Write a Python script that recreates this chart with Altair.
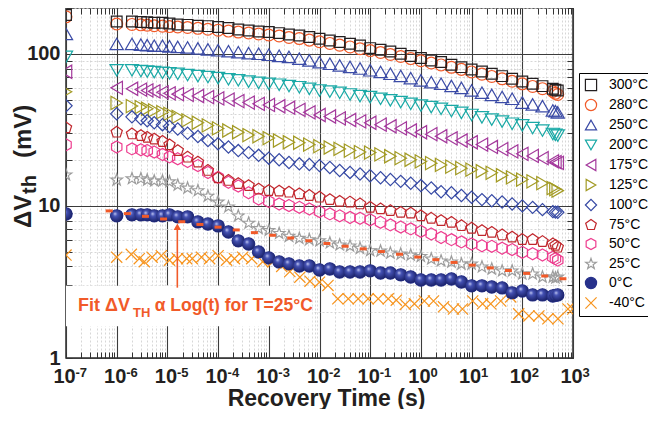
import altair as alt
import pandas as pd

FONT = "Liberation Sans"
INK = "#231f20"
ACCENT = "#f15a29"

# ---------------- data ----------------
SERIES = ["300°C", "280°C", "250°C", "200°C", "175°C", "125°C",
          "100°C", "75°C", "50°C", "25°C", "0°C", "-40°C"]

TIMES = [1e-7, 1e-6, 2e-6, 3e-6, 4e-6, 5.5e-6, 8e-6, 1.1e-5, 1.6e-5, 2.5e-5, 4e-5, 6.3e-5,
         1e-4, 1.6e-4, 2.5e-4, 4e-4, 6.3e-4, 1e-3, 1.6e-3, 2.5e-3, 4e-3, 6.3e-3,
         1e-2, 1.6e-2, 2.5e-2, 4e-2, 6.3e-2, 0.1, 0.16, 0.25, 0.4, 0.63,
         1, 1.6, 2.5, 4, 6.3, 10, 16, 25, 40, 63, 100, 160, 250, 400, 450, 500]

V_300 = [180, 163, 163, 162, 161, 160, 160, 158, 156, 155, 153, 152, 150, 147.6, 144.5, 142.3,
         140.2, 138.9, 136.8, 134, 131.9, 128.8, 125.5, 122.3, 119.4, 116.4, 113.4, 109, 106.2,
         103.5, 100, 96.6, 93.7, 90.3, 88.2, 84.7, 81.7, 78.8, 76.5, 73.9, 71.3, 68.5, 65.7,
         63.5, 61.3, 58.9, 58, 57.4]
V_280 = [175, 157, 156, 155, 154, 153, 152, 151, 150, 149, 147, 145, 143, 141, 139, 137, 135,
         133, 131, 128, 126, 123, 120, 117, 114, 111, 108, 105, 102, 99, 96, 93, 90, 87, 84.5,
         81.5, 79, 76, 73.5, 71, 68.5, 66, 63.5, 61, 59, 56.5, 55, 54]
V_250 = [135, 116, 116, 115, 114, 113, 113, 112, 111, 110, 108.5, 107, 105.5, 104, 102.5, 101,
         100, 98.5, 97, 95.4, 93, 90.5, 88.2, 86, 83.8, 82, 80, 77.9, 76, 73.9, 71.5, 69.2,
         66.9, 65, 63.5, 61.5, 59.7, 57.4, 55.5, 53.7, 52, 50.6, 47.8, 46.5, 45.3, 42.4, 42, 41.2]
V_200 = [95.6, 77.9, 77.9, 77, 76.5, 75.7, 75, 74.5, 73.9, 72.5, 71.3, 70.3, 69.2, 68, 66.9,
         65.6, 64.4, 63.5, 62.6, 61.4, 60.3, 58.8, 57.4, 56.4, 55.4, 54, 52.7, 51.9, 50.6, 49.4,
         48.1, 46.9, 45.7, 44.6, 43.5, 42, 40.9, 39.6, 38.2, 36.9, 35.8, 34.7, 33.8, 32.5, 31.3,
         29.7, 29.3, 29.0]
V_175 = [76.2, 59.7, 58.9, 58.2, 57.4, 56.6, 55.8, 55, 54.3, 53.7, 52.8, 51.9, 50.9, 50.0, 48.9,
         47.8, 46.9, 46.1, 45.2, 44.2, 42.8, 41.2, 39.6, 38.7, 37.6, 36.7, 35.9, 35.2, 34.2, 33.4,
         32.3, 31.3, 30.5, 29.6, 28.7, 27.8, 26.9, 26.2, 25.3, 24.4, 23.6, 22.8, 22.0, 21.3, 20.6,
         19.6, 19.4, 19.2]
V_125 = [56.2, 47.5, 45.3, 44.6, 43.5, 42.4, 41.3, 40.3, 38.5, 36.5, 35.2, 33.8, 32.3, 31.3, 30.5,
         29.2, 28.7, 27.9, 26.9, 26.2, 26.0, 25.3, 24.7, 24.2, 23.7, 23.1, 22.6, 22.4, 21.8, 21.2,
         20.6, 20.1, 19.6, 19.1, 18.6, 18.1, 17.7, 17.3, 16.9, 16.5, 15.9, 15.4, 14.9, 14.5, 14.1,
         13.1, 12.9, 12.6]
V_100 = [45.5, 40.3, 38.5, 37.4, 36.3, 35.2, 34.2, 33.3, 32.0, 30.0, 28.6, 26.9, 25.6, 24.4, 23.1,
         22.4, 21.5, 20.6, 20.1, 19.3, 18.9, 18.7, 18.4, 17.9, 17.1, 16.6, 16.2, 15.8, 15.3, 14.9,
         14.5, 14.1, 13.6, 13.1, 12.4, 12.2, 11.7, 11.4, 11.0, 10.8, 10.6, 10.3, 10.0, 9.78, 9.45,
         9.17, 9.1, 9.07]
V_75 = [32.6, 30.5, 29.7, 29.0, 28.2, 27.5, 26.5, 25.2, 23.1, 20.9, 19.4, 17.1, 15.3, 14.7, 14.0,
        13.6, 12.9, 12.6, 12.5, 12.3, 12.0, 11.7, 11.4, 11.0, 10.7, 10.6, 10.3, 9.78, 9.55, 9.3,
        9.07, 8.97, 8.6, 8.29, 8.0, 7.8, 7.41, 7.13, 6.88, 6.7, 6.44, 6.23, 6.01, 6.0, 5.83, 5.62,
        5.5, 5.35]
V_50 = [25.2, 24.4, 23.7, 23.4, 23.1, 22.6, 21.8, 21.0, 20.4, 19.6, 18.4, 16.6, 15.4, 14.3, 13.5,
        12.2, 11.1, 10.7, 10.3, 10.05, 9.78, 9.55, 9.17, 8.86, 8.6, 8.4, 8.29, 8.1, 7.8, 7.5, 7.26,
        7.06, 6.8, 6.54, 6.2, 6.0, 5.8, 5.62, 5.47, 5.42, 5.27, 5.16, 4.95, 4.85, 4.76, 4.6, 4.5, 4.4]
V_25 = [16.0, 14.8, 15.1, 15.1, 14.8, 14.6, 14.6, 14.4, 13.7, 13.1, 12.6, 11.6, 10.6, 9.85, 8.6,
        7.7, 7.1, 6.9, 6.6, 6.32, 6.12, 6.0, 5.9, 5.71, 5.54, 5.45, 5.27, 5.08, 5.05, 4.9, 4.83,
        4.75, 4.66, 4.48, 4.35, 4.28, 4.15, 4.15, 3.97, 3.85, 3.74, 3.74, 3.57, 3.57, 3.41, 3.41,
        3.36, 3.41]
V_0 = [8.85, 8.6, 8.73, 8.73, 8.73, 8.6, 8.6, 8.73, 8.47, 8.47, 7.85, 7.6, 7.39, 6.74, 5.89, 5.62,
       4.98, 4.55, 4.28, 4.15, 4.03, 4.03, 3.79, 3.85, 3.68, 3.68, 3.68, 3.74, 3.62, 3.62, 3.52,
       3.41, 3.26, 3.26, 3.26, 3.31, 3.16, 2.98, 2.98, 2.93, 2.89, 2.68, 2.76, 2.6, 2.6, 2.56,
       2.58, 2.6]

TIMES_M40 = [1e-7, 1e-6, 1.94e-6, 2.79e-6, 3.5e-6, 5.0e-6, 7.6e-6, 1.1e-5, 1.58e-5, 2.4e-5, 3.1e-5,
             4.7e-5, 6.8e-5, 1e-4, 1.47e-4, 2.1e-4, 3.05e-4, 4.6e-4, 7.6e-4, 1.2e-3, 1.8e-3,
             2.6e-3, 4.1e-3, 6.5e-3, 1.0e-2, 1.47e-2, 2.3e-2, 3.7e-2, 5.8e-2, 9.1e-2, 0.144,
             0.227, 0.327, 0.493, 0.743, 1.17, 1.77, 2.79, 4.4, 6.6, 10.5, 16.5, 23.8, 37.5, 59,
             85, 135, 212, 320, 505, 796, 990]
V_M40 = [4.75, 4.6, 4.8, 4.5, 4.3, 4.6, 4.7, 4.4, 4.5, 4.5, 4.5, 4.6, 4.5, 4.7, 4.4, 4.5, 4.6,
         4.5, 4.3, 4.3, 4.0, 3.7, 3.4, 3.2, 3.15, 3.0, 2.45, 2.45, 2.45, 2.45, 2.45, 2.45, 2.4,
         2.25, 2.27, 2.37, 2.37, 2.17, 2.1, 2.1, 2.37, 2.27, 2.27, 2.37, 2.52, 1.95, 1.89, 1.89,
         1.81, 1.81, 2.1, 2.1]

# log(t) fit for T = 25 °C (orange dashes)
FIT_T = [7.1e-7, 1.62e-6, 3.69e-6, 8.41e-6, 1.92e-5, 4.38e-5, 9.98e-5, 2.28e-4, 5.19e-4,
         1.18e-3, 2.70e-3, 6.15e-3, 1.40e-2, 3.20e-2, 7.29e-2, 0.166, 0.379, 0.865, 1.97,
         4.50, 10.3, 23.4, 53.3, 122, 277, 632]
FIT_V = [9.27, 8.90, 8.54, 8.20, 7.87, 7.55, 7.25, 6.95, 6.67, 6.41, 6.15, 5.90, 5.66, 5.43,
         5.22, 5.01, 4.81, 4.61, 4.43, 4.25, 4.08, 3.91, 3.76, 3.60, 3.46, 3.32]

# annotation (in data units)
ANN_MAIN = ["Fit ΔV"]
ANN_MAIN_T = [1.73e-7]
ANN_REST = ["α Log(t) for T=25°C"]
ANN_REST_T = [5.6e-6]
ANN_V = [2.04]
ANN_SUB = ["TH"]
ANN_SUB_T = [2.1e-6]
ANN_SUB_V = [1.85]
ARROW_T = [1.57e-5]
ARROW_V = [2.9]
ARROW_V2 = [7.3]
BOX_X = [1e-7]
BOX_X2 = [7.2e-3]
BOX_Y = [1.62]
BOX_Y2 = [2.98]

X_DECADES = [1e-7, 1e-6, 1e-5, 1e-4, 1e-3, 1e-2, 1e-1, 1, 10, 100, 1000]
X_EXPONENTS = ["-7", "-6", "-5", "-4", "-3", "-2", "-1", "0", "1", "2", "3"]
Y_DECADES = [1, 10, 100]

# ---------------- styles ----------------
COLORS = ["#231f20", "#f15a29", "#3b4ba6", "#1aa9a6", "#a4399c", "#a39b25",
          "#3649a4", "#c1272d", "#ee3d8f", "#9d9d9d", "#27318b", "#f7941d"]
FILLS = ["transparent"] * 10 + ["#27318b", "transparent"]
PENTAGON = "M0,-1L0.951,-0.309L0.588,0.809L-0.588,0.809L-0.951,-0.309Z"
HEXAGON = "M0,-1L0.866,-0.5L0.866,0.5L0,1L-0.866,0.5L-0.866,-0.5Z"
STAR = ("M0,-1L0.235,-0.324L0.951,-0.309L0.380,0.124L0.588,0.809L0,0.4L-0.588,0.809"
        "L-0.380,0.124L-0.951,-0.309L-0.235,-0.324Z")
XMARK = "M-1,-1L1,1M-1,1L1,-1"
SHAPES = ["square", "circle", "triangle-up", "triangle-down", "triangle-left", "triangle-right",
          "diamond", PENTAGON, HEXAGON, STAR, "circle", XMARK]
SIZES = [115, 140, 175, 175, 175, 175, 150, 140, 145, 150, 150, 125]

W, H = 507, 350
TICK = 6

# ---------------- tables ----------------
rows = []
for name, vals in zip(SERIES[:-1], [V_300, V_280, V_250, V_200, V_175, V_125,
                                     V_100, V_75, V_50, V_25, V_0]):
    for t, v in zip(TIMES, vals):
        rows.append({"t": t, "v": v, "series": name})
for t, v in zip(TIMES_M40, V_M40):
    rows.append({"t": t, "v": v, "series": "-40°C"})
df = pd.DataFrame(rows)
df0 = pd.DataFrame({"t": TIMES, "v": V_0})
fit_df = pd.DataFrame({"t": FIT_T, "v": FIT_V})
ann_df = pd.DataFrame({"t": ANN_MAIN_T, "v": ANN_V, "txt": ANN_MAIN})
rest_df = pd.DataFrame({"t": ANN_REST_T, "v": ANN_V, "txt": ANN_REST})
sub_df = pd.DataFrame({"t": ANN_SUB_T, "v": ANN_SUB_V, "txt": ANN_SUB})
arrow_df = pd.DataFrame({"t": ARROW_T, "v": ARROW_V, "v2": ARROW_V2})
head_df = pd.DataFrame({"t": ARROW_T, "v": ARROW_V2})
box_df = pd.DataFrame({"x": BOX_X, "x2": BOX_X2, "y": BOX_Y, "y2": BOX_Y2})

X_TICKS = [m * d for d in X_DECADES[:-1] for m in range(1, 10)] + [X_DECADES[-1]]
Y_TICKS = [m * d for d in Y_DECADES[:-1] for m in range(1, 10)] + [100, 200]
IS_DEC = "abs(log(datum.value)/LN10 - round(log(datum.value)/LN10)) < 0.02"
EXP_ARR = "[" + ",".join("'%s'" % e for e in X_EXPONENTS) + "]"

xs = alt.Scale(type="log", domain=[X_DECADES[0], X_DECADES[-1]], nice=False)
ys = alt.Scale(type="log", domain=[1, 200], nice=False)

grid_color = {"condition": {"test": IS_DEC, "value": "#3c3c3c"}, "value": "#cdcdcd"}
grid_dash = {"condition": {"test": IS_DEC, "value": []}, "value": [2, 2]}
grid_width = {"condition": {"test": IS_DEC, "value": 1.1}, "value": 0.8}

# Every axis is shifted onto the opposite edge so that its ticks point into the frame.
# "bottom" x axis -> sits on the top edge (ticks down); carries grid, exponents and title.
x_axis_a = alt.Axis(
    orient="bottom", offset=-H, values=X_TICKS,
    labelExpr=f"{IS_DEC} ? {EXP_ARR}[round(log(datum.value)/LN10)+7] : ''",
    labelFont=FONT, labelFontSize=13, labelFontWeight="bold", labelColor=INK,
    labelPadding=H + 18 - TICK, labelOffset=9, labelAlign="left", labelBaseline="alphabetic",
    labelFlush=False, labelOverlap=False, ticks=True, tickSize=TICK, tickColor="#333333",
    tickWidth=1, domain=False, grid=True,
    gridColor=grid_color, gridDash=grid_dash, gridWidth=grid_width,
    title="Recovery Time (s)", titleFont=FONT, titleFontSize=23, titleFontWeight="bold",
    titleColor=INK, titleX=260, titleY=H + 47, titleBaseline="alphabetic")
# "top" x axis -> sits on the bottom edge (ticks up); carries the "10" labels.
x_axis_b = alt.Axis(
    orient="top", offset=-H, values=X_TICKS, labelExpr=f"{IS_DEC} ? '10' : ''",
    labelFont=FONT, labelFontSize=20, labelFontWeight="bold", labelColor=INK,
    labelPadding=-(TICK + 8), labelOffset=-2, labelBaseline="top",
    labelFlush=False, labelOverlap=False, ticks=True, tickSize=TICK, tickColor="#333333",
    tickWidth=1, domain=False, grid=False, title=None)
# "left" y axis -> sits on the right edge (ticks left); carries grid and labels.
y_axis_a = alt.Axis(
    orient="left", offset=-W, values=Y_TICKS, labelExpr=f"{IS_DEC} ? datum.label : ''",
    labelFont=FONT, labelFontSize=20, labelFontWeight="bold", labelColor=INK,
    labelPadding=W + 6 - TICK, labelAlign="right", labelFlush=False, labelOverlap=False,
    ticks=True, tickSize=TICK, tickColor="#333333", tickWidth=1, domain=False, grid=True,
    gridColor=grid_color, gridDash=grid_dash, gridWidth=grid_width, title=None)
# "right" y axis -> sits on the left edge (ticks right).
y_axis_b = alt.Axis(
    orient="right", offset=-W, values=Y_TICKS, labels=False, ticks=True, tickSize=TICK,
    tickColor="#333333", tickWidth=1, domain=False, grid=False, title=None)

legend = alt.Legend(title=None, orient="none", legendX=513, legendY=65)

X = lambda axis=None: alt.X("t:Q", scale=xs, axis=axis)
Y = lambda axis=None: alt.Y("v:Q", scale=ys, axis=axis)

box = alt.Chart(box_df).mark_rect(fill="white").encode(
    x=alt.X("x:Q", scale=xs, axis=None), x2="x2:Q",
    y=alt.Y("y:Q", scale=ys, axis=None), y2="y2:Q")

# one layer per marker size; all share the same colour/fill/shape scales and legend
point_layers = []
first = True
for sz in sorted(set(SIZES), reverse=True):
    names = [s for s, z in zip(SERIES, SIZES) if z == sz]
    sub = df[df["series"].isin(names)]
    point_layers.append(
        alt.Chart(sub).mark_point(clip=True, strokeWidth=1.2, opacity=1, size=sz).encode(
            x=X(x_axis_a if first else None), y=Y(y_axis_a if first else None),
            color=alt.Color("series:N", scale=alt.Scale(domain=SERIES, range=COLORS),
                            legend=legend),
            fill=alt.Fill("series:N", scale=alt.Scale(domain=SERIES, range=FILLS),
                          legend=legend),
            shape=alt.Shape("series:N", scale=alt.Scale(domain=SERIES, range=SHAPES),
                            legend=legend),
        ))
    first = False

sphere_grad = {
    "gradient": "radial", "x1": 0.36, "y1": 0.32, "r1": 0.0, "x2": 0.45, "y2": 0.45, "r2": 0.6,
    "stops": [{"offset": 0.0, "color": "#c9cff5"}, {"offset": 0.3, "color": "#4451b3"},
              {"offset": 1.0, "color": "#161d62"}]}
spheres = alt.Chart(df0).mark_point(
    clip=True, filled=True, fill=sphere_grad, strokeWidth=0, size=155, shape="circle", opacity=1
).encode(x=X(x_axis_b), y=Y(y_axis_b))

dashes = alt.Chart(fit_df).mark_tick(
    orient="horizontal", color=ACCENT, size=7, thickness=3, opacity=1, clip=True
).encode(x=X(), y=Y())

arrow = alt.Chart(arrow_df).mark_rule(color=ACCENT, strokeWidth=1.6).encode(
    x=X(), y=Y(), y2="v2:Q")
head = alt.Chart(head_df).mark_point(
    shape="triangle-up", filled=True, color=ACCENT, size=55, opacity=1).encode(x=X(), y=Y())


def ann_text(frame, size):
    return alt.Chart(frame).mark_text(
        font=FONT, fontWeight="bold", fontSize=size, color=ACCENT, align="left",
        baseline="alphabetic").encode(x=X(), y=Y(), text="txt:N")


def ytitle(txt, px, py, size):
    return alt.Chart(pd.DataFrame({"txt": [txt]})).mark_text(
        font=FONT, fontWeight="bold", fontSize=size, color=INK, angle=270,
        align="left", baseline="alphabetic").encode(
        x=alt.value(px), y=alt.value(py), text="txt:N")


chart = alt.layer(
    box, *point_layers, spheres, dashes, arrow, head,
    ann_text(ann_df, 18), ann_text(sub_df, 13), ann_text(rest_df, 17.5),
    ytitle("ΔV", -35, 220, 24), ytitle("th", -30, 186, 20), ytitle("(mV)", -35, 150, 24),
).properties(
    width=W, height=H, autosize="none",
    padding={"left": 58, "top": 0, "right": 75, "bottom": 51},
).configure_view(stroke="#2b2b2b", strokeWidth=1.5).configure_legend(
    labelFont=FONT, labelFontSize=14, labelColor="black", symbolSize=125,
    symbolStrokeWidth=1.2, rowPadding=4, padding=5, strokeColor="black",
    fillColor="white", labelOffset=11)

chart.save("out.html", embed_options={"renderer": "svg", "actions": False})
